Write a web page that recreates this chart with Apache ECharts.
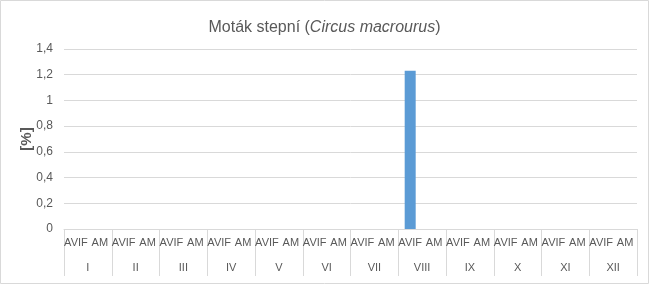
<!DOCTYPE html>
<html><head><meta charset="utf-8">
<script src="https://cdn.jsdelivr.net/npm/echarts@6/dist/echarts.min.js"></script>
<style>html,body{margin:0;padding:0;background:#fff}#c{width:649px;height:284px}</style>
</head><body><div id="c"></div>
<script>
var months = ['I','II','III','IV','V','VI','VII','VIII','IX','X','XI','XII'];
var subCats = ['AVIF','AM'];
var avifValues = [0,0,0,0,0,0,0,1.23,0,0,0,0];
var amValues = [0,0,0,0,0,0,0,0,0,0,0,0];
var yTicks = [0,0.2,0.4,0.6,0.8,1,1.2,1.4];

var cats = [], vals = [];
months.forEach(function(m,i){
  cats.push(m+'-AVIF'); vals.push(avifValues[i] || null);
  cats.push(m+'-AM'); vals.push(amValues[i] || null);
});
var FONT = '"Liberation Sans",Arial,sans-serif';
var chart = echarts.init(document.getElementById('c'));
chart.setOption({
  animation:false,
  textStyle:{fontFamily:FONT},
  title:{
    text:'{n|Moták stepní (}{i|Circus macrourus}{n|)}',
    left:'center', top:15,
    textStyle:{fontWeight:'normal',rich:{
      n:{fontSize:16,color:'#595959',fontWeight:'normal',fontFamily:FONT},
      i:{fontSize:16,color:'#595959',fontStyle:'italic',fontWeight:'normal',fontFamily:FONT}
    }}
  },
  graphic:[{type:'rect',shape:{x:0.5,y:0.5,width:648,height:283},style:{fill:null,stroke:'#d9d9d9',lineWidth:1},silent:true}],
  grid:{left:64,right:12,top:49,bottom:55},
  xAxis:[{
    type:'category', data:cats,
    axisLine:{lineStyle:{color:'#d9d9d9'}},
    axisTick:{show:false},
    axisLabel:{interval:0,margin:8,color:'#595959',fontSize:11,fontFamily:FONT,
      formatter:function(v){return v.split('-')[1];}}
  },{
    type:'category', data:months, position:'bottom',
    axisLine:{show:false},
    axisTick:{show:true,interval:0,length:47,lineStyle:{color:'#d9d9d9'}},
    axisLabel:{interval:0,margin:33,color:'#595959',fontSize:11,fontFamily:FONT}
  }],
  yAxis:{
    type:'value', min:0, max:1.4, interval:0.2,
    name:'[%]', nameLocation:'middle', nameGap:37, nameRotate:90, nameMoveOverlap:false,
    nameTextStyle:{fontWeight:'bold',fontSize:15,color:'#595959',fontFamily:FONT,verticalAlign:'middle'},
    axisLine:{show:false}, axisTick:{show:false},
    splitLine:{lineStyle:{color:'#d9d9d9'}},
    axisLabel:{color:'#595959',fontSize:12,margin:11,fontFamily:FONT,
      formatter:function(v){return String(Math.round(v*10)/10).replace('.',',');}}
  },
  series:[{type:'bar',xAxisIndex:0,data:vals,barWidth:11,itemStyle:{color:'#5b9bd5'}}]
});
</script></body></html>
